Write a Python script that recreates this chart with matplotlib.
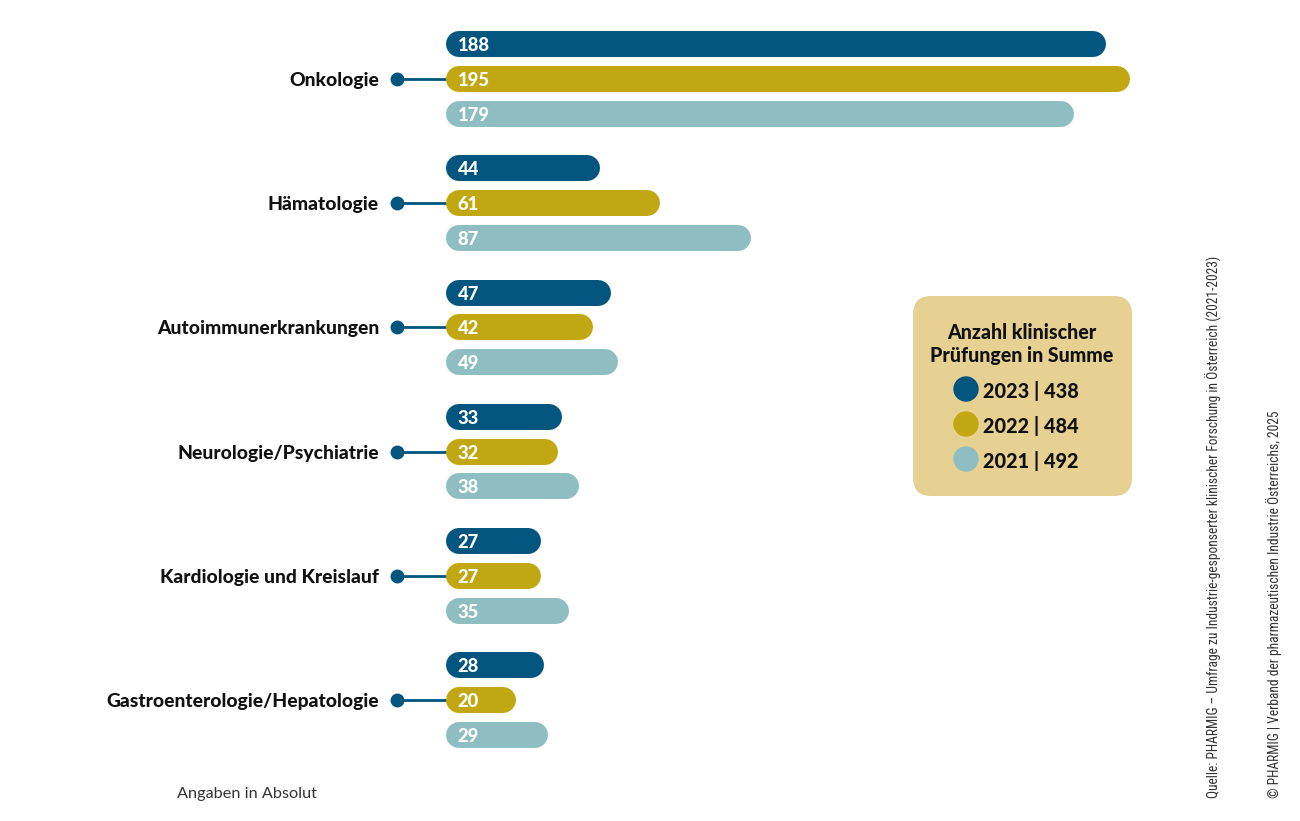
import matplotlib
matplotlib.use("Agg")
import matplotlib.pyplot as plt
from matplotlib.patches import FancyBboxPatch
from matplotlib import font_manager

plt.rcParams['font.family'] = ['Lato', 'DejaVu Sans']

categories = ["Onkologie", "Hämatologie", "Autoimmunerkrankungen",
              "Neurologie/Psychiatrie", "Kardiologie und Kreislauf",
              "Gastroenterologie/Hepatologie"]
years = ["2023", "2022", "2021"]
totals = [438, 484, 492]
v2023 = [188, 44, 47, 33, 27, 28]
v2022 = [195, 61, 42, 32, 27, 20]
v2021 = [179, 87, 49, 38, 35, 29]
series = [v2023, v2022, v2021]
colors = ["#02557f", "#c1a813", "#8fbec2"]
legend_bg = "#e6d192"
legend_title = "Anzahl klinischer\nPrüfungen in Summe"
note = "Angaben in Absolut"
source = "Quelle: PHARMIG – Umfrage zu Industrie-gesponserter klinischer Forschung in Österreich (2021-2023)"
copyright_ = "© PHARMIG | Verband der pharmazeutischen Industrie Österreichs, 2025"

W, H, DPI = 1300, 821, 100
fig = plt.figure(figsize=(W / DPI, H / DPI), dpi=DPI)

px_per_unit = 3.51
ax_left_px = 446
xmax = 240
ax_w_px = xmax * px_per_unit
grp_px = 124.3
top_px = 79 - grp_px / 2
bot_px = 700 + grp_px / 2
ax = fig.add_axes([ax_left_px / W, 1 - bot_px / H, ax_w_px / W, (bot_px - top_px) / H])
ax.set_xlim(0, xmax)
ax.set_ylim(len(categories) - 0.5, -0.5)
ax.axis('off')

bar_h_px = 26
lw_pt = bar_h_px * 72 / DPI
r_units = (bar_h_px / 2) / px_per_unit
offset = 34.8 / grp_px

for i, cat in enumerate(categories):
    for j, s in enumerate(series):
        y = i + (j - 1) * offset
        v = s[i]
        ax.plot([r_units, v - r_units], [y, y], color=colors[j], lw=lw_pt,
                solid_capstyle='round', zorder=2)
        ax.text(3.3, y, str(v), color='white', fontsize=13.2, fontweight='black',
                va='center_baseline', ha='left', zorder=3)
    dot_x = -(446 - 397) / px_per_unit
    ax.plot([dot_x, 0], [i, i], color=colors[0], lw=2, clip_on=False, zorder=1)
    ax.plot([dot_x], [i], 'o', color=colors[0], ms=9, clip_on=False, zorder=2)
    ax.text(-(446 - 379) / px_per_unit, i, cat, ha='right', va='center_baseline',
            fontsize=13.9, fontweight='black', color='#111111', clip_on=False)

# legend box
box = FancyBboxPatch((913 / W, 1 - 496 / H), (1132 - 913) / W, (496 - 296) / H,
                     boxstyle="round,pad=0,rounding_size=0.014",
                     transform=fig.transFigure, facecolor=legend_bg,
                     edgecolor='none', mutation_aspect=W / H)
fig.patches.append(box)
fig.text(1022 / W, 1 - 344 / H, legend_title, ha='center', va='center',
         fontsize=14.1, fontweight='black', color='#111111', linespacing=1.3)
for k, (yr, tot) in enumerate(zip(years, totals)):
    yy = 389 + k * 35
    c = plt.Circle((966 / DPI, (H - yy) / DPI), 12 / DPI,
                   transform=fig.dpi_scale_trans, color=colors[k])
    fig.patches.append(c)
    fig.text(983 / W, 1 - yy / H, f"{yr} | {tot}", ha='left', va='center_baseline',
             fontsize=14.3, fontweight='black', color='#111111')

fig.text(177 / W, 1 - 792 / H, note, ha='left', va='center_baseline', fontsize=11.7,
         color='#333333')

# choose narrow font if available
side_family = ['Lato', 'DejaVu Sans']
for fam in ['Liberation Sans Narrow', 'Roboto Condensed', 'Open Sans Condensed']:
    try:
        font_manager.findfont(font_manager.FontProperties(family=fam),
                              fallback_to_default=False)
        side_family = [fam, 'DejaVu Sans']
        break
    except Exception:
        pass

t1 = fig.text(1214 / W, 1 - 798 / H, source, rotation=90, ha='center', va='bottom',
              fontsize=11, color='#333333', family=side_family)
t2 = fig.text(1274 / W, 1 - 798 / H, copyright_, rotation=90, ha='center', va='bottom',
              fontsize=11, color='#333333', family=side_family)
fig.canvas.draw()
r = fig.canvas.get_renderer()
for t, target in [(t1, 542), (t2, 387)]:
    ext = t.get_window_extent(r)
    t.set_fontsize(11 * target / ext.height)

fig.savefig("out.png", dpi=DPI)
